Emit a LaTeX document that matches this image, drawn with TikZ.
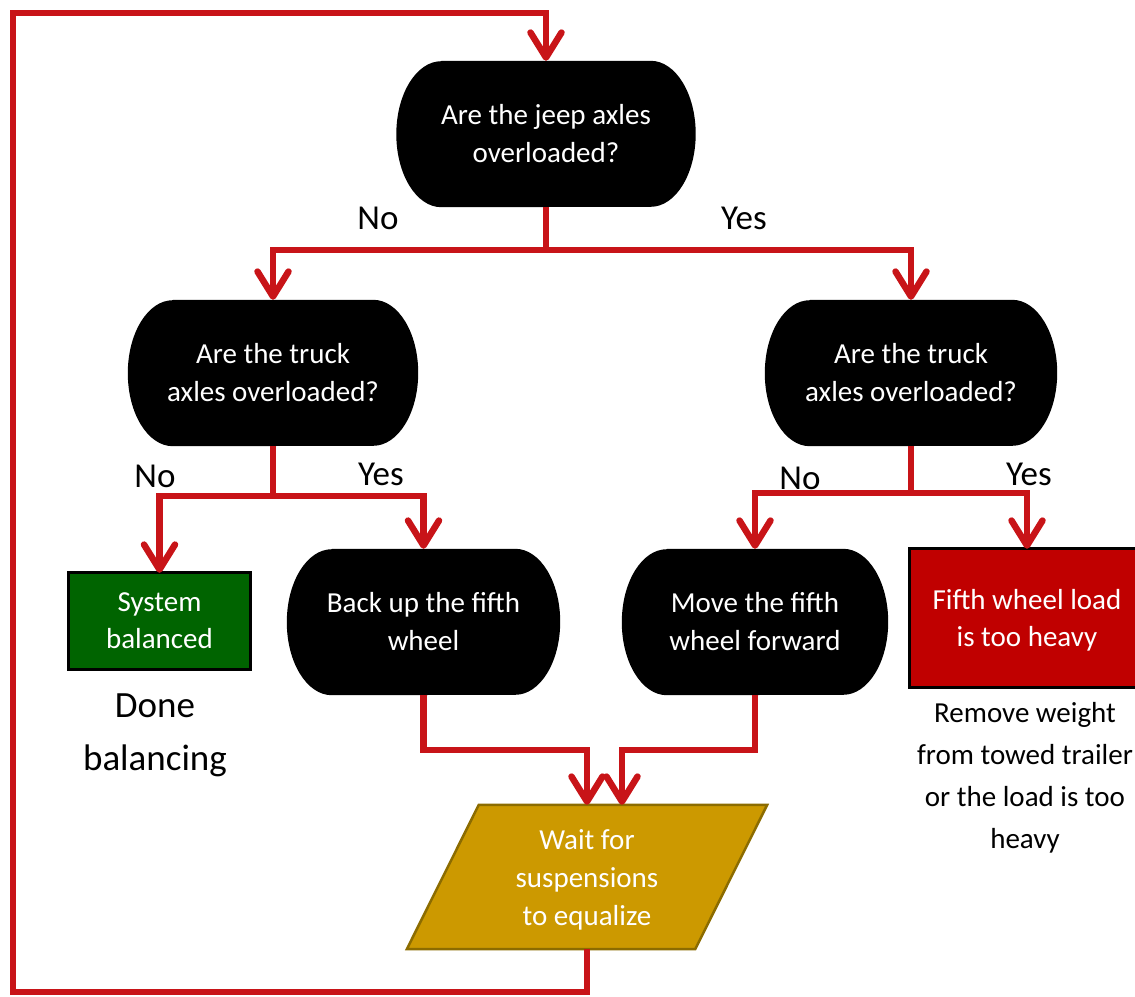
\documentclass[tikz,border=0pt]{standalone}
\usepackage{fontspec}
\setmainfont{Carlito}
\usetikzlibrary{arrows.meta,backgrounds}
\definecolor{lnred}{RGB}{200,20,24}
\definecolor{boxgreen}{RGB}{0,100,0}
\definecolor{boxred}{RGB}{192,0,0}
\definecolor{boxgold}{RGB}{204,153,0}
\definecolor{goldedge}{RGB}{140,108,0}
\newcommand\termfill[1]{\fill[black] ([xshift=45pt]#1.north west) -- ([xshift=-45pt]#1.north east) arc[start angle=90,end angle=-90,x radius=45,y radius=73] -- ([xshift=45pt]#1.south west) arc[start angle=270,end angle=90,x radius=45,y radius=73] -- cycle;}
\begin{document}
\begin{tikzpicture}[x=1pt,y=1pt,
  conn/.style={draw=lnred,line width=6.5pt},
  arr/.style={conn,-{Straight Barb[length=25pt,width=31pt,round]}},
  term/.style={minimum width=#1,minimum height=146pt,inner sep=0pt,text=white,align=center,font=\fontsize{29}{38}\selectfont},
  lbl/.style={inner sep=0pt,font=\fontsize{35}{42}\selectfont},
  boxtxt/.style={inner sep=0pt,text=white,align=center,font=\fontsize{29}{37}\selectfont},
  note/.style={inner sep=0pt,align=center}]
\useasboundingbox (0,0) rectangle (1135,-996);
% nodes
\node[term=299pt] (q1) at (546,-134) {Are the jeep axles\\overloaded?};
\node[term=290pt] (q2L) at (273,-373) {Are the truck\\axles overloaded?};
\node[term=292pt] (q2R) at (911,-373) {Are the truck\\axles overloaded?};
\node[term=273pt] (bu) at (423.5,-622) {Back up the fifth\\wheel};
\node[term=266pt] (mv) at (755,-622) {Move the fifth\\wheel forward};
\node[boxtxt,minimum width=181pt,minimum height=96pt] (bal) at (159.5,-621) {System\\balanced};
\node[boxtxt,minimum width=234pt,minimum height=138pt] (heavy) at (1027,-620) {Fifth wheel load\\is too heavy};
\node[boxtxt,minimum width=360pt,minimum height=144pt,font=\fontsize{29}{38}\selectfont] (wait) at (587,-880) {Wait for\\suspensions\\to equalize};
\node[note,font=\fontsize{37}{53}\selectfont] (done) at (155,-735) {Done\\balancing};
\node[note,font=\fontsize{29}{42}\selectfont] (remove) at (1025,-778) {Remove weight\\from towed trailer\\or the load is too\\heavy};
% labels
\node[lbl] (n1) at (378,-218) {No};
\node[lbl] (y1) at (744,-218) {Yes};
\node[lbl] (n2) at (155,-476) {No};
\node[lbl] (y2) at (381,-474) {Yes};
\node[lbl] (n3) at (800,-478) {No};
\node[lbl] (y3) at (1029,-474) {Yes};
% shapes
\begin{scope}[on background layer]
\termfill{q1}
\termfill{q2L}
\termfill{q2R}
\termfill{bu}
\termfill{mv}
\filldraw[fill=boxgreen,draw=black,line width=3pt] (bal.north west) rectangle (bal.south east);
\filldraw[fill=boxred,draw=black,line width=3pt] ([yshift=2pt]heavy.north west) rectangle ([yshift=2pt]heavy.south east);
\filldraw[fill=boxgold,draw=goldedge,line width=2.5pt] ([xshift=72pt,yshift=3pt]wait.north west) -- ([yshift=3pt]wait.north east) -- ([xshift=-72pt,yshift=3pt]wait.south east) -- ([yshift=3pt]wait.south west) -- cycle;
\end{scope}
% connectors
\coordinate (j1) at ([yshift=-43pt]q1.south);
\coordinate (j2) at ([yshift=-50pt]q2L.south);
\coordinate (j3) at ([yshift=-47pt]q2R.south);
\coordinate (lb) at (13,-992);
\coordinate (lt) at (13,-13);
\draw[conn] (q1.south) -- (j1);
\draw[arr] (j1) -| (q2L.north);
\draw[arr] (j1) -| (q2R.north);
\draw[conn] (q2L.south) -- (j2);
\draw[arr] (j2) -| (bal.north);
\draw[arr] (j2) -| (bu.north);
\draw[conn] (q2R.south) -- (j3);
\draw[arr] (j3) -| (mv.north);
\draw[arr] (j3) -| ([yshift=2pt]heavy.north);
\draw[arr] (bu.south) -- ++(0,-55) -| ([yshift=3pt]wait.north);
\draw[arr] (mv.south) -- ++(0,-55) -| ([xshift=35pt,yshift=3pt]wait.north);
\draw[arr] ([yshift=3pt]wait.south) |- (lb) -- (lt) -| (q1.north);
\end{tikzpicture}
\end{document}
